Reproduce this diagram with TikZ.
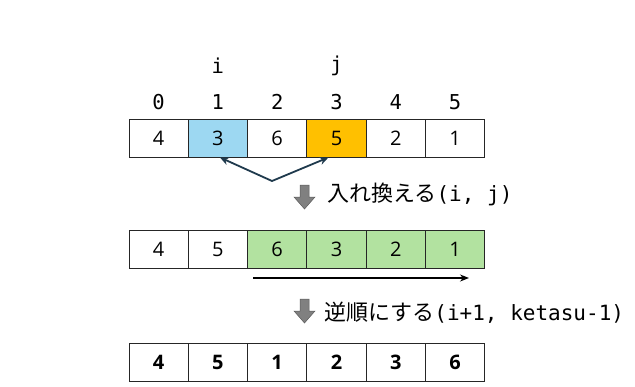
\documentclass[tikz,border=0pt]{standalone}
\usepackage{fontspec}
\setmainfont{Open Sans}
\setmonofont{DejaVu Sans Mono}
\newfontfamily\jp{Noto Sans CJK JP}
\usetikzlibrary{arrows.meta}
\definecolor{cblue}{HTML}{9DD8F2}
\definecolor{corange}{HTML}{FFC000}
\definecolor{cgreen}{HTML}{B2E2A0}
\definecolor{navy}{HTML}{1F3A4D}
\definecolor{agray}{HTML}{808080}
\tikzset{
  cell/.style={draw=black!85, line width=0.8pt, minimum width=59.3pt, minimum height=38pt, inner sep=0pt, font=\fontsize{20}{20}\selectfont},
  idx/.style={inner sep=0pt, font=\fontsize{20.5}{20.5}\selectfont\ttfamily},
  lbl/.style={inner sep=0pt, anchor=west, font=\fontsize{21}{21}\selectfont},
  blockarrow/.style={fill=agray, draw=agray!70!black, line width=0.5pt}
}
\begin{document}
\begin{tikzpicture}[x=1pt,y=-1pt]
\useasboundingbox (0,0) rectangle (635,386);
\fill[white] (0,0) rectangle (635,386);
% indices
\foreach \k in {0,...,5}{
  \node[idx] (ix\k) at ({158.6+59.3*\k},102) {\k};
}
\node[idx] (li) at (217.9,66) {i};
\node[idx] (lj) at (336.5,66) {j};
% row 1
\node[cell] (a0) at (158.6,138) {4};
\node[cell, fill=cblue] (a1) at (217.9,138) {3};
\node[cell] (a2) at (277.2,138) {6};
\node[cell, fill=corange] (a3) at (336.5,138) {5};
\node[cell] (a4) at (395.8,138) {2};
\node[cell] (a5) at (455.1,138) {1};
% swap arrows
\coordinate (v) at (272,181);
\draw[navy, line width=1.8pt, {Stealth[length=9pt,width=8pt]}-{Stealth[length=9pt,width=8pt]}]
  ([xshift=2pt]a1.south) -- (v) -- ([xshift=-8pt]a3.south);
% block arrow 1
\draw[blockarrow] (300,185) -- (309,185) -- (309,197) -- (315,197) -- (304.5,209) -- (294,197) -- (300,197) -- cycle;
\node[lbl] (t1) at (327,194) {{\jp\fontsize{22}{22}\selectfont 入れ換える}\ttfamily(i, j)};
% row 2
\node[cell] (b0) at (158.6,249.5) {4};
\node[cell] (b1) at (217.9,249.5) {5};
\node[cell, fill=cgreen] (b2) at (277.2,249.5) {6};
\node[cell, fill=cgreen] (b3) at (336.5,249.5) {3};
\node[cell, fill=cgreen] (b4) at (395.8,249.5) {2};
\node[cell, fill=cgreen] (b5) at (455.1,249.5) {1};
\coordinate (g1) at (253,278);
\coordinate (g2) at (469,278);
\draw[black, line width=1.3pt, -{Stealth[length=9pt,width=7pt]}] (g1) -- (g2);
% block arrow 2
\draw[blockarrow] (300,299) -- (309,299) -- (309,311) -- (315,311) -- (304.5,323) -- (294,311) -- (300,311) -- cycle;
\node[lbl] (t2) at (324,313) {{\jp\fontsize{22}{22}\selectfont 逆順にする}\ttfamily(i+1, ketasu-1)};
% row 3
\foreach \v [count=\k from 0] in {4,5,1,2,3,6}{
  \node[cell, font=\fontsize{20}{20}\selectfont\bfseries] (c\k) at ({158.6+59.3*\k},362) {\v};
}
\end{tikzpicture}
\end{document}
